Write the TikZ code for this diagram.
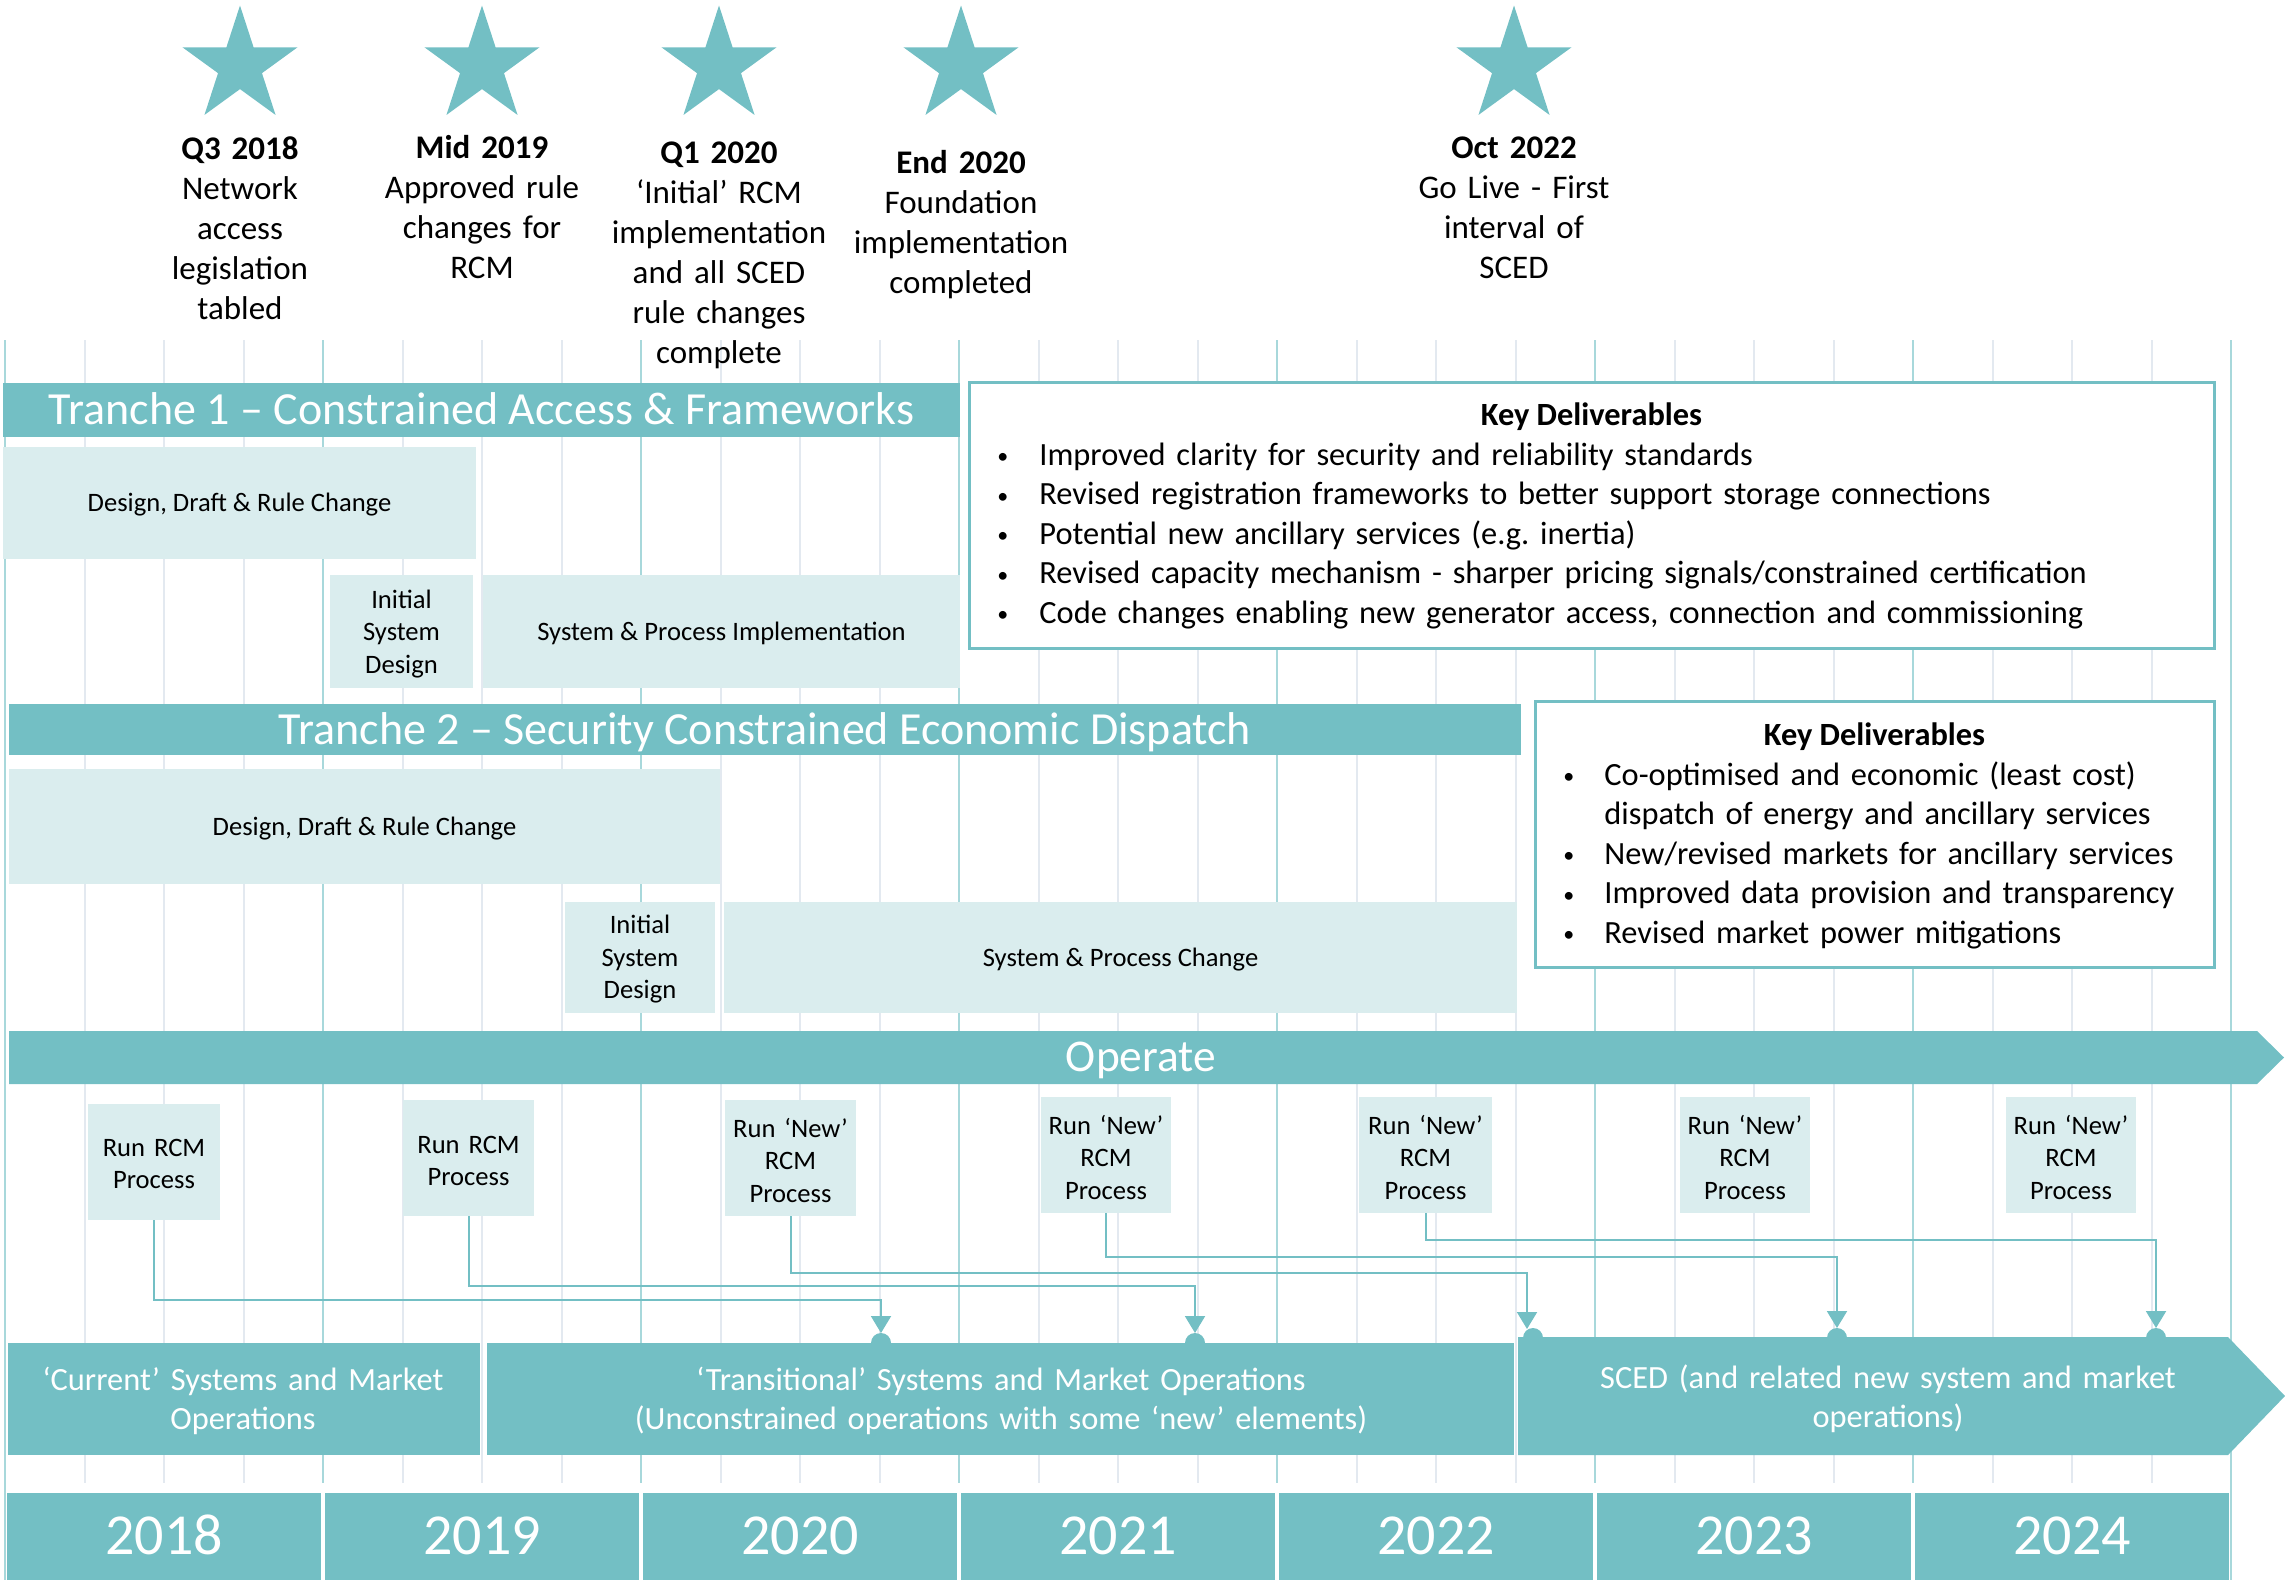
\documentclass[tikz,border=0pt]{standalone}
\usepackage{fontspec}
\setmainfont{Carlito}
\usetikzlibrary{shapes.geometric,arrows.meta}
\definecolor{tealc}{HTML}{73BFC4}
\definecolor{lightc}{HTML}{DAEDEE}
\definecolor{qlinec}{HTML}{E3E9F0}
\definecolor{ylinec}{HTML}{A8D8DB}
\newcommand{\kdb}[1]{\makebox[#1][l]{\fontsize{11}{11}\selectfont\raisebox{0.6pt}{•}}}
\begin{document}
\frenchspacing
\begin{tikzpicture}[x=0.5pt,y=-0.5pt,
  mstar/.style={star, star points=5, star point ratio=2.618, minimum size=60.5pt, inner sep=0pt, fill=tealc, draw=none},
  mtext/.style={anchor=base, align=center, inner sep=0pt, text width=150pt, font=\fontsize{16.5}{20}\selectfont},
  lbox/.style={fill=lightc, inner sep=0pt, outer sep=0pt, text height=8.6pt, text depth=0pt, font=\fontsize{13.3}{16.25}\selectfont},
  ltext/.style={anchor=base, align=center, inner sep=0pt, text width=70pt, font=\fontsize{13.3}{16.25}\selectfont},
  tbar/.style={fill=tealc, inner sep=0pt, outer sep=0pt, text=white, text height=14.6pt, text depth=0pt, font=\fontsize{23}{27}\selectfont},
  kdbox/.style={draw=tealc, line width=1.5pt, fill=white, inner sep=0pt, outer sep=0pt},
  kdtitle/.style={anchor=base, inner sep=0pt, font=\fontsize{16.2}{19.75}\selectfont\bfseries},
  kdlist/.style={anchor=base west, align=left, inner sep=0pt, text width=620pt, font=\fontsize{16.2}{19.75}\selectfont},
  opsbox/.style={fill=tealc, inner sep=0pt, outer sep=0pt},
  otext/.style={anchor=base, align=center, inner sep=0pt, text width=560pt, text=white, font=\fontsize{16.2}{19.5}\selectfont},
  optext/.style={anchor=base, inner sep=0pt, text=white, font=\fontsize{22.7}{26}\selectfont},
  yearc/.style={fill=tealc, inner sep=0pt, outer sep=0pt, text=white, font=\fontsize{29}{33}\selectfont, text height=18.3pt, text depth=0pt},
  conn/.style={draw=tealc, line width=1pt, -{Triangle[width=10pt,length=8.5pt]}},
  bumpn/.style={circle, fill=tealc, minimum size=10pt, inner sep=0pt, outer sep=0pt},
  qline/.style={draw=qlinec, line width=1pt},
  yline/.style={draw=ylinec, line width=1.2pt}
]
\useasboundingbox (0,0) rectangle (2285,1580);

% grid
\foreach \i in {0,...,6} {
  \foreach \k in {1,2,3} {
    \draw[qline] ({5+318*\i+79.5*\k},340) -- ({5+318*\i+79.5*\k},1483);
  }
}
\foreach \i in {1,...,6} \draw[yline] ({5+318*\i},340) -- ({5+318*\i},1483);
\draw[yline] (5,340) -- (5,1580);
\draw[yline] (2231,340) -- (2231,1580);

% milestones
\node[mstar] (st1) at (240,66) {};
\node[mstar] (st2) at (482,66) {};
\node[mstar] (st3) at (719,66) {};
\node[mstar] (st4) at (961,66) {};
\node[mstar] (st5) at (1514,66) {};
\node[mtext] (m1) at (240,159) {\textbf{Q3 2018}\\Network\\access\\legislation\\tabled};
\node[mtext] (m2) at (482,158) {\textbf{Mid 2019}\\Approved rule\\changes for\\RCM};
\node[mtext] (m3) at (719,163) {\textbf{Q1 2020}\\‘Initial’ RCM\\implementation\\and all SCED\\rule changes\\complete};
\node[mtext] (m4) at (961,173) {\textbf{End 2020}\\Foundation\\implementation\\completed};
\node[mtext] (m5) at (1514,158) {\textbf{Oct 2022}\\Go Live - First\\interval of\\SCED};

% Tranche 1
\node[tbar, minimum width=478.5pt, minimum height=27pt] (t1) at (481.5,410) {Tranche 1 – Constrained Access \& Frameworks};
\node[lbox, minimum width=236.5pt, minimum height=56pt] (t1d) at (239.5,503) {Design, Draft \& Rule Change};
\node[lbox, minimum width=71.5pt, minimum height=56.5pt] (t1i) at (401.5,631.5) {};
\node[ltext] (t1it) at (401.5,608) {Initial\\System\\Design};
\node[lbox, minimum width=238.5pt, minimum height=56.5pt] (t1s) at (721.5,631.5) {System \& Process Implementation};

% Key deliverables 1
\node[kdbox, minimum width=622.5pt, minimum height=133pt] (kd1) at (1591.5,515) {};
\node[kdtitle] (kd1t) at (1591.5,425) {Key Deliverables};
\node[kdlist] (kd1l) at (997,465) {%
\kdb{21pt}Improved clarity for security and reliability standards\\
\kdb{21pt}Revised registration frameworks to better support storage connections\\
\kdb{21pt}Potential new ancillary services (e.g. inertia)\\
\kdb{21pt}Revised capacity mechanism - sharper pricing signals/constrained certification\\
\kdb{21pt}Code changes enabling new generator access, connection and commissioning};

% Tranche 2
\node[tbar, minimum width=756pt, minimum height=25.5pt] (t2) at (765,729.5) {Tranche 2 – Security Constrained Economic Dispatch};
\node[lbox, minimum width=355.5pt, minimum height=57.5pt] (t2d) at (364.5,826.5) {Design, Draft \& Rule Change};
\node[lbox, minimum width=75pt, minimum height=55.5pt] (t2i) at (640,957.5) {};
\node[ltext] (t2it) at (640,933.5) {Initial\\System\\Design};
\node[lbox, minimum width=396.5pt, minimum height=55.5pt] (t2s) at (1120.5,957.5) {System \& Process Change};

% Key deliverables 2
\node[kdbox, minimum width=339.5pt, minimum height=133pt] (kd2) at (1874.5,834) {};
\node[kdtitle] (kd2t) at (1874.5,745.5) {Key Deliverables};
\node[kdlist, text width=330pt] (kd2l) at (1563,785) {%
\kdb{20.5pt}Co-optimised and economic (least cost)\\
\hspace*{20.5pt}dispatch of energy and ancillary services\\
\kdb{20.5pt}New/revised markets for ancillary services\\
\kdb{20.5pt}Improved data provision and transparency\\
\kdb{20.5pt}Revised market power mitigations};

% Operate
\fill[tealc] (9,1031) -- (2257,1031) -- (2284,1057.5) -- (2257,1084) -- (9,1084) -- cycle;
\node[optext] (op) at (1141,1071) {Operate};

% Run boxes
\node[lbox, minimum width=66pt, minimum height=58pt] (r1) at (154,1162) {};
\node[lbox, minimum width=65.5pt, minimum height=58pt] (r2) at (468.5,1158) {};
\node[lbox, minimum width=65.5pt, minimum height=58pt] (r3) at (790.5,1158) {};
\node[lbox, minimum width=65pt, minimum height=58pt] (r4) at (1106,1155) {};
\node[lbox, minimum width=66.5pt, minimum height=58pt] (r5) at (1425.5,1155) {};
\node[lbox, minimum width=65pt, minimum height=58pt] (r6) at (1745,1155) {};
\node[lbox, minimum width=65pt, minimum height=58pt] (r7) at (2071,1155) {};
\node[ltext] (rt1) at (154,1156) {Run RCM\\Process};
\node[ltext] (rt2) at (468.5,1153) {Run RCM\\Process};
\node[ltext] (rt3) at (790.5,1137) {Run ‘New’\\RCM\\Process};
\node[ltext] (rt4) at (1106,1134) {Run ‘New’\\RCM\\Process};
\node[ltext] (rt5) at (1425.5,1134) {Run ‘New’\\RCM\\Process};
\node[ltext] (rt6) at (1745,1134) {Run ‘New’\\RCM\\Process};
\node[ltext] (rt7) at (2071,1134) {Run ‘New’\\RCM\\Process};

% operations boxes
\node[opsbox, minimum width=236pt, minimum height=56pt] (cur) at (244,1399) {};
\node[opsbox, minimum width=513.5pt, minimum height=56pt] (trans) at (1000.5,1399) {};
\fill[tealc] (1518,1337) -- (2228,1337) -- (2285,1396) -- (2228,1455) -- (1518,1455) -- cycle;
\node[otext] (curt) at (243,1390) {‘Current’ Systems and Market\\Operations};
\node[otext] (transt) at (1001,1390) {‘Transitional’ Systems and Market Operations\\(Unconstrained operations with some ‘new’ elements)};
\node[otext] (scedt) at (1888,1388) {SCED (and related new system and market\\operations)};

% bumps and connectors
\node[bumpn] (b1) at (881,1343) {};
\node[bumpn] (b2) at (1195,1343) {};
\node[bumpn] (b3) at (1533,1338) {};
\node[bumpn] (b4) at (1837,1338) {};
\node[bumpn] (b5) at (2156,1338) {};
\coordinate (a3) at (1527,1329);
\draw[conn] (r1.south) -- ++(0,80) -| (b1.north);
\draw[conn] (r2.south) -- ++(0,70) -| (b2.north);
\draw[conn] (r3.south) -- ++(0,57) -| (a3);
\draw[conn] (r4.south) -- ++(0,44) -| (b4.north);
\draw[conn] (r5.south) -- ++(0,27) -| (b5.north);

% years
\node[yearc, minimum width=157pt, minimum height=43.5pt] (y18) at (164,1536.5) {2018};
\node[yearc, minimum width=157pt, minimum height=43.5pt] (y19) at (482,1536.5) {2019};
\node[yearc, minimum width=157pt, minimum height=43.5pt] (y20) at (800,1536.5) {2020};
\node[yearc, minimum width=157pt, minimum height=43.5pt] (y21) at (1118,1536.5) {2021};
\node[yearc, minimum width=157pt, minimum height=43.5pt] (y22) at (1436,1536.5) {2022};
\node[yearc, minimum width=157pt, minimum height=43.5pt] (y23) at (1754,1536.5) {2023};
\node[yearc, minimum width=157pt, minimum height=43.5pt] (y24) at (2072,1536.5) {2024};
\end{tikzpicture}
\end{document}
